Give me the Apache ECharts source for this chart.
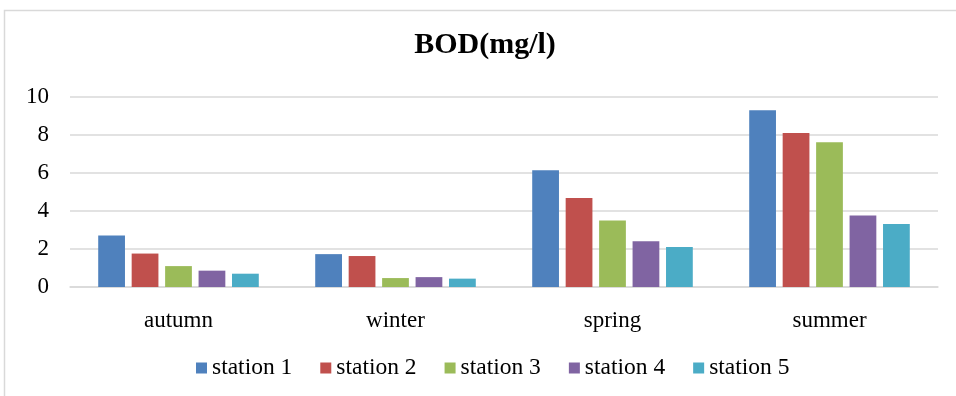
<!DOCTYPE html>
<html>
<head>
<meta charset="utf-8">
<script src="https://cdn.jsdelivr.net/npm/echarts@6/dist/echarts.min.js"></script>
<style>
  html, body { margin: 0; padding: 0; background: #fff; }
  #chart { width: 956px; height: 396px; }
</style>
</head>
<body>
<div id="chart"></div>
<script>
// BOD concentration by season for five sampling stations
const seasons = ['autumn', 'winter', 'spring', 'summer'];
const station1 = [2.71, 1.73, 6.15, 9.30];
const station2 = [1.76, 1.63, 4.68, 8.11];
const station3 = [1.10, 0.47, 3.50, 7.62];
const station4 = [0.86, 0.52, 2.41, 3.76];
const station5 = [0.70, 0.44, 2.11, 3.32];
const stationNames = ['station 1', 'station 2', 'station 3', 'station 4', 'station 5'];
const stationColors = ['#4F81BD', '#C0504D', '#9BBB59', '#8064A2', '#4BACC6'];
const yTicks = [0, 2, 4, 6, 8, 10];

const fontFamily = '"Liberation Serif", "Times New Roman", serif';
const values = [station1, station2, station3, station4, station5];

const chart = echarts.init(document.getElementById('chart'));
chart.setOption({
  animation: false,
  backgroundColor: '#fff',
  textStyle: { fontFamily: fontFamily },
  graphic: [{
    type: 'rect',
    shape: { x: 4.5, y: 10.5, width: 980, height: 400 },
    style: { fill: 'none', stroke: '#d9d9d9', lineWidth: 1.5 },
    silent: true,
    z: -1
  }],
  title: {
    text: 'BOD(mg/l)',
    left: 485,
    textAlign: 'center',
    top: 30,
    padding: 0,
    textStyle: { fontFamily: fontFamily, fontSize: 30, fontWeight: 'bold', color: '#000' }
  },
  legend: {
    data: stationNames,
    top: 356,
    left: 196,
    padding: 0,
    itemWidth: 11,
    itemHeight: 11,
    itemGap: 28,
    icon: 'rect',
    textStyle: { fontFamily: fontFamily, fontSize: 23.5, color: '#000' }
  },
  grid: { left: 70, right: 18, top: 97, bottom: 109, containLabel: false },
  xAxis: {
    type: 'category',
    data: seasons,
    axisLine: { lineStyle: { color: '#d9d9d9', width: 1.5 } },
    axisTick: { show: false },
    axisLabel: { fontFamily: fontFamily, fontSize: 23, color: '#000', margin: 22 }
  },
  yAxis: {
    type: 'value',
    min: yTicks[0],
    max: yTicks[yTicks.length - 1],
    interval: yTicks[1] - yTicks[0],
    axisLine: { show: false },
    axisTick: { show: false },
    splitLine: { lineStyle: { color: '#d9d9d9', width: 1.5 } },
    axisLabel: { fontFamily: fontFamily, fontSize: 23, color: '#000', margin: 21 }
  },
  series: stationNames.map((name, i) => ({
    name: name,
    type: 'bar',
    data: values[i],
    barGap: '25%',
    barCategoryGap: '26%',
    itemStyle: { color: stationColors[i] }
  }))
});
</script>
</body>
</html>
